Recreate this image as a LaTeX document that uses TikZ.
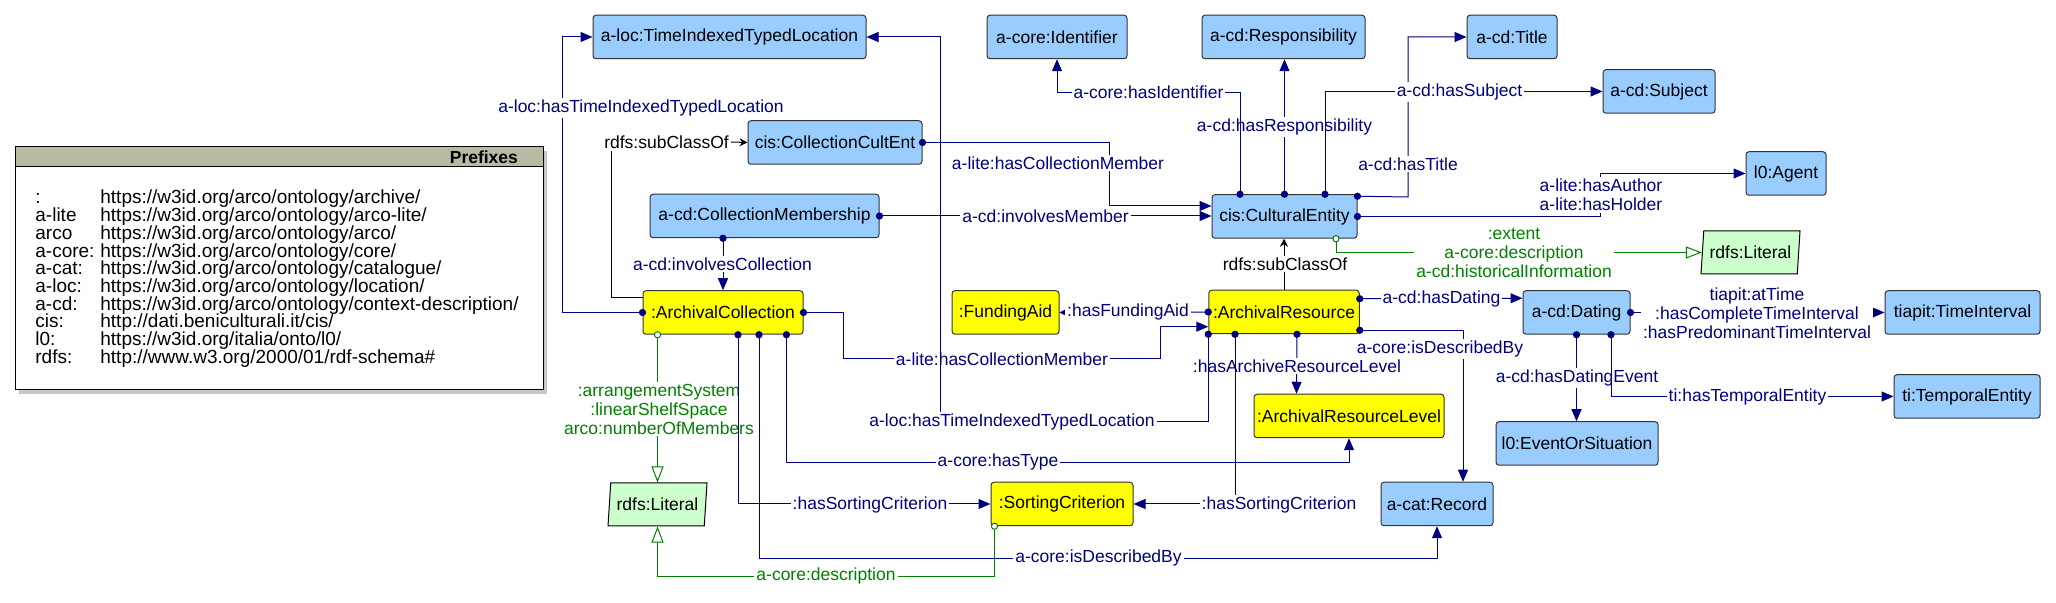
\documentclass[tikz,border=0pt]{standalone}
\usepackage{fontspec}
\setmainfont{Liberation Sans}
\usepackage{xcolor}
\usetikzlibrary{positioning,calc,arrows.meta,shapes.geometric}

\definecolor{clsblue}{HTML}{99CCFF}
\definecolor{indyellow}{HTML}{FFFF00}
\definecolor{litgreen}{HTML}{CCFFCC}
\definecolor{propnavy}{HTML}{000080}
\definecolor{datagreen}{HTML}{008000}
\definecolor{headtan}{HTML}{BAB9A2}

\begin{document}
\begin{tikzpicture}[x=0.5pt,y=-0.5pt,
  font=\fontsize{8.75}{9.5}\selectfont,
  cls/.style={draw=black!80,fill=clsblue,rounded corners=1.5pt,line width=0.5pt,
    minimum height=21.75pt,inner sep=0pt},
  ind/.style={cls,fill=indyellow},
  lit/.style={trapezium,trapezium left angle=78,trapezium right angle=102,
    trapezium stretches body,draw=black,fill=litgreen,line width=0.5pt,
    minimum height=21.5pt,minimum width=49.5pt,inner sep=0pt},
  prop/.style={draw=propnavy,line width=0.5pt,shorten <=-1.8pt,
    {Circle[length=3.6pt]}-{Triangle[length=6pt,width=5pt]}},
  dprop/.style={draw=datagreen,line width=0.5pt,shorten <=-1.8pt,
    {Circle[length=3.6pt,fill=white]}-{Triangle[length=8pt,width=6pt,fill=white]}},
  subc/.style={draw=black,line width=0.5pt},
  plbl/.style={fill=white,text=propnavy,inner sep=1pt,align=center},
  dlbl/.style={plbl,text=datagreen},
  slbl/.style={plbl,text=black},
  pfx/.style={font=\fontsize{9.5}{11}\selectfont,inner sep=0pt,anchor=base west}
]
\useasboundingbox (0,0) rectangle (2056,603);

% Prefix table.
\fill[black!22] (19,151) rectangle (547,394);
\draw[fill=white,line width=0.5pt] (15,147) rectangle (543,390);
\draw[fill=headtan,line width=0.5pt] (15,147) rectangle (543,167);
\node[anchor=east,font=\fontsize{8.75}{9.5}\selectfont\bfseries] (pfxhead)
  at (525,157) {Prefixes};
\foreach \pre [count=\i] in {:,a-lite,arco,a-core:,a-cat:,a-loc:,a-cd:,cis:,l0:,rdfs:}
  \node[pfx] (pre\i) at (35,{186.3+17.7*\i}) {\pre};
\foreach \uri [count=\i] in {https://w3id.org/arco/ontology/archive/,
    https://w3id.org/arco/ontology/arco-lite/,
    https://w3id.org/arco/ontology/arco/,
    https://w3id.org/arco/ontology/core/,
    https://w3id.org/arco/ontology/catalogue/,
    https://w3id.org/arco/ontology/location/,
    https://w3id.org/arco/ontology/context-description/,
    http://dati.beniculturali.it/cis/,
    https://w3id.org/italia/onto/l0/,
    http://www.w3.org/2000/01/rdf-schema\#}
  \node[pfx] (uri\i) at (100,{186.3+17.7*\i}) {\uri};

% Classes.
\node[cls,minimum width=136.5pt] (loc) at (729.5,37) {a-loc:TimeIndexedTypedLocation};
\node[cls,minimum width=70pt] (ident) at (1057,37) {a-core:Identifier};
\node[cls,minimum width=81.5pt] (resp) at (1283.5,37) {a-cd:Responsibility};
\node[cls,minimum width=45pt] (title) at (1512,37) {a-cd:Title};
\node[cls,minimum width=56pt] (subj) at (1659,91.5) {a-cd:Subject};
\node[cls,minimum width=40pt] (agent) at (1786,173.5) {l0:Agent};
\node[cls,minimum width=87pt] (collcult) at (835,142.5) {cis:CollectionCultEnt};
\node[cls,minimum width=114.5pt] (collmemb) at (764.5,216) {a-cd:CollectionMembership};
\node[cls,minimum width=72.5pt] (cultent) at (1284.5,216.5) {cis:CulturalEntity};
\node[ind,minimum width=80pt] (archcoll) at (723,312.5) {:ArchivalCollection};
\node[ind,minimum width=53.5pt] (funding) at (1005.5,312.5) {:FundingAid};
\node[ind,minimum width=75.25pt] (archres) at (1284,312) {:ArchivalResource};
\node[cls,minimum width=53.5pt] (dating) at (1576.5,312.5) {a-cd:Dating};
\node[cls,minimum width=77.5pt] (interval) at (1962.5,312.5) {tiapit:TimeInterval};
\node[cls,minimum width=73pt] (temporal) at (1967,396.5) {ti:TemporalEntity};
\node[cls,minimum width=81pt] (event) at (1577,443.5) {l0:EventOrSituation};
\node[ind,minimum width=95pt] (reslevel) at (1349,416) {:ArchivalResourceLevel};
\node[cls,minimum width=56pt] (record) at (1437,504) {a-cat:Record};
\node[ind,minimum width=71pt] (sorting) at (1062,504) {:SortingCriterion};
\node[lit] (litleft) at (657.5,504.5) {rdfs:Literal};
\node[lit] (litright) at (1750.5,252.5) {rdfs:Literal};

% Collection side, upper part.
\draw[prop] (archcoll.west) -- ++(-80.3,0) |- (loc.west);
\node[plbl] (lbl1) at (641,108) {a-loc:hasTimeIndexedTypedLocation};

\node[slbl] (sub1) at (666.5,142) {rdfs:subClassOf};
\draw[subc] ($(archcoll.north west)+(0,7)$) -| ($(sub1.south west)+(10,0)$);
\draw[subc,-{Stealth[length=4pt,width=4pt]}] (sub1.east) -- (collcult.west);

\draw[prop] (archcoll.north |- collmemb.south) -- (archcoll.north);
\node[plbl] (lbl2) at (722.5,264) {a-cd:involvesCollection};

\draw[prop] (collmemb.east) -- (cultent.west |- collmemb.east);
\node[plbl] (lbl3) at (1045.5,216) {a-cd:involvesMember};

\draw[prop] (collcult.east) -- (1109,142.5) |- ($(cultent.west)+(0,-10.5)$);
\node[plbl] (lbl4) at (1058,163) {a-lite:hasCollectionMember};

% Cultural entity properties.
\draw[prop] (cultent.north) -- (cultent.north |- resp.south);
\node[plbl] (lbl5) at (1284.5,127) {a-cd:hasResponsibility};

\draw[prop] ($(cultent.north)+(-44.5,0)$) |- ($(ident.south)+(0,33)$) -- (ident.south);
\node[plbl] (lbl6) at (1148.5,92) {a-core:hasIdentifier};

\draw[prop] ($(cultent.north east)+(0,2)$) -- (1408,197) |- (title.west);
\node[plbl] (lbl7) at (1408,164) {a-cd:hasTitle};

\draw[prop] ($(cultent.north)+(40.5,0)$) |- (subj.west);
\node[plbl] (lbl8) at (1459.5,92) {a-cd:hasSubject};

\draw[prop] (cultent.east) -- (1600,216.5) |- (agent.west);
\node[plbl] (lbl9) at (1601,195) {a-lite:hasAuthor\\a-lite:hasHolder};

\draw[dprop] ($(cultent.south)+(51.5,0)$) |- (litright.west);
\node[dlbl] (lbl10) at (1514,253) {:extent\\a-core:description\\a-cd:historicalInformation};

% Archival resource.
\draw[subc,-{Stealth[length=4pt,width=4pt]}] (archres.north) -- (archres.north |- cultent.south);
\node[slbl] (sub2) at (1285,264) {rdfs:subClassOf};

\draw[prop,{Circle[length=3.6pt]}-{Triangle[length=3pt,width=3pt]}] (archres.west) -- (funding.east);
\node[plbl] (lbl11) at (1128,312) {:hasFundingAid};

\draw[prop] (archcoll.east) -- (843.6,312.5) |- (1160,359) |- ($(archres.west)+(0,14.7)$);
\node[plbl] (lbl12) at (1002,359) {a-lite:hasCollectionMember};

\draw[prop] ($(archres.north east)+(0,9)$) -- ($(dating.north west)+(0,8)$);
\node[plbl] (lbl13) at (1441.5,299) {a-cd:hasDating};

\draw[prop] ($(archres.south east)+(0,-4)$) -| ($(record.north)+(26,0)$);
\node[plbl] (lbl14) at (1440,349) {a-core:isDescribedBy};

\draw[prop] ($(archres.south)+(13,0)$) -- ($(reslevel.north west)+(43,0)$);
\node[plbl] (lbl15) at (1297,366) {:hasArchiveResourceLevel};

\draw[prop] ($(archres.south)+(-49,0)$) |- (sorting.east);
\node[plbl] (lbl16) at (1279,505) {:hasSortingCriterion};

\draw[prop] (archres.south west) |- (940,422) |- (loc.east);
\node[plbl] (lbl17) at (1012,422) {a-loc:hasTimeIndexedTypedLocation};

% Dating.
\draw[prop] (dating.east) -- (interval.west);
\node[plbl] (lbl18) at (1757,313) {tiapit:atTime\\:hasCompleteTimeInterval\\:hasPredominantTimeInterval};

\draw[prop] (dating.south) -- (dating.south |- event.north);
\node[plbl] (lbl19) at (1577,378) {a-cd:hasDatingEvent};

\draw[prop] ($(dating.south)+(34.5,0)$) |- (temporal.west);
\node[plbl] (lbl20) at (1747.5,397) {ti:hasTemporalEntity};

% Collection side, lower part.
\draw[dprop] (litleft.north |- archcoll.south) -- (litleft.north);
\node[dlbl] (lbl21) at (659,409) {:arrangementSystem\\:linearShelfSpace\\arco:numberOfMembers};

\draw[prop] ($(archcoll.south)+(15,0)$) |- (sorting.west);
\node[plbl] (lbl22) at (870,505) {:hasSortingCriterion};

\draw[prop] ($(archcoll.south)+(63.4,0)$) |- ($(reslevel.south)+(0,24)$) -- (reslevel.south);
\node[plbl] (lbl23) at (998,462) {a-core:hasType};

\draw[prop] ($(archcoll.south)+(36,0)$) |- ($(record.south)+(0,32)$) -- (record.south);
\node[plbl] (lbl24) at (1098.5,558) {a-core:isDescribedBy};

\draw[dprop] ($(sorting.south west)+(4,0)$) |- ($(litleft.south)+(0,49.5)$) -- (litleft.south);
\node[dlbl] (lbl25) at (826,576) {a-core:description};

\end{tikzpicture}
\end{document}
